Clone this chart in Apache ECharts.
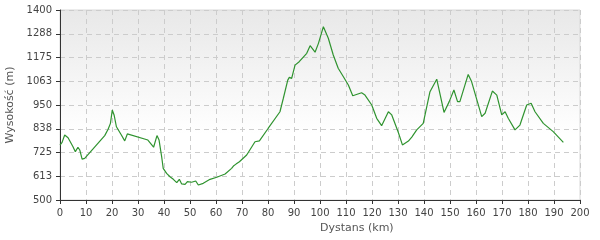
<!DOCTYPE html>
<html>
<head>
<meta charset="utf-8">
<script src="https://cdn.jsdelivr.net/npm/echarts@6/dist/echarts.min.js"></script>
<style>html,body{margin:0;padding:0;background:#fff}#c{width:600px;height:240px}</style>
</head>
<body>
<div id="c"></div>
<script>
var distanceKm = [0,0.8,1.8,3.1,5,5.9,6.9,7.6,8.5,9.5,17.2,18.5,19.4,20.1,20.8,21.7,23.6,24.9,25.9,33.8,36.0,37.3,38.1,39.1,39.7,41.0,42.3,43.6,44.9,45.9,46.8,48.1,49.0,50.6,52.2,53.2,55.1,57.7,60.3,63.5,66.0,66.7,67.7,69.0,71.8,75.0,76.7,80.1,84.6,85.9,87.6,88.2,89.1,90.4,92.0,94.9,96.2,98.1,99.4,101.3,103.2,105.1,107.0,109.0,110.9,112.6,116.0,117.3,119.9,121.8,123.7,126.3,127.6,130.1,131.7,134.0,135.3,137.2,139.7,142.3,144.9,147.7,149.7,151.5,152.9,153.8,157.0,158.3,162.2,163.5,166.3,168.0,169.9,171.2,172.4,175.0,176.9,179.5,181.2,182.7,185.9,189.7,193.6];
var elevationM = [760,773,808,795,752,729,750,737,694,697,805,835,863,926,903,847,808,780,813,784,750,805,784,705,650,626,610,598,582,598,576,574,587,584,590,571,579,598,608,623,650,661,670,681,713,776,780,840,918,982,1068,1081,1076,1139,1155,1195,1231,1200,1242,1321,1266,1187,1124,1084,1045,994,1008,997,950,887,852,918,903,821,761,779,798,832,863,1013,1072,915,966,1021,966,966,1095,1061,895,911,1016,997,903,918,887,832,855,950,958,918,863,824,773];
var yTickMin = 500, yTickMax = 1400, yTickStep = 112.5;
var xTickMin = 0, xTickMax = 200, xTickStep = 10;
var xName = 'Dystans (km)', yName = 'Wysokość (m)';

var points = distanceKm.map(function(d, i){ return [d, elevationM[i]]; });
var font = 'DejaVu Sans';
var chart = echarts.init(document.getElementById('c'), null, {renderer:'canvas'});
chart.setOption({
  animation: false,
  grid: {
    left: 60, right: 20, top: 10, bottom: 40,
    containLabel: false,
    outerBoundsMode: 'none',
    show: true,
    borderColor: '#d8d8d8', borderWidth: 1,
    backgroundColor: {type:'linear', x:0, y:0, x2:0, y2:1, colorStops:[{offset:0,color:'#e8e8e8'},{offset:0.65,color:'#ffffff'},{offset:1,color:'#ffffff'}]}
  },
  xAxis: {
    type: 'value', min: xTickMin, max: xTickMax, interval: xTickStep,
    name: xName, nameLocation: 'middle', nameGap: 23,
    nameTextStyle: {fontFamily: font, fontSize: 11, color: '#555', align: 'left'},
    axisLine: {lineStyle: {color: '#333', width: 1}},
    axisTick: {show: true, length: 4, lineStyle: {color: '#333'}},
    axisLabel: {fontFamily: font, fontSize: 10, color: '#444', margin: 8},
    splitLine: {show: true, lineStyle: {color: '#cccccc', type: [5,4], width: 1}}
  },
  yAxis: {
    type: 'value', min: yTickMin, max: yTickMax, interval: yTickStep,
    name: yName, nameLocation: 'middle', nameGap: 38, nameRotate: 90,
    nameTextStyle: {fontFamily: font, fontSize: 11, color: '#555'},
    axisLine: {show: true, lineStyle: {color: '#333', width: 1}},
    axisTick: {show: true, length: 4, lineStyle: {color: '#333'}},
    axisLabel: {fontFamily: font, fontSize: 10, color: '#444', margin: 8,
      formatter: function(v){ return String(Math.round(v)); }},
    splitLine: {show: true, lineStyle: {color: '#cccccc', type: [5,4], width: 1}}
  },
  series: [{
    type: 'line', data: points, showSymbol: false, symbol: 'none',
    lineStyle: {color: '#2f932f', width: 1.2}, smooth: false
  }]
});
</script>
</body>
</html>
